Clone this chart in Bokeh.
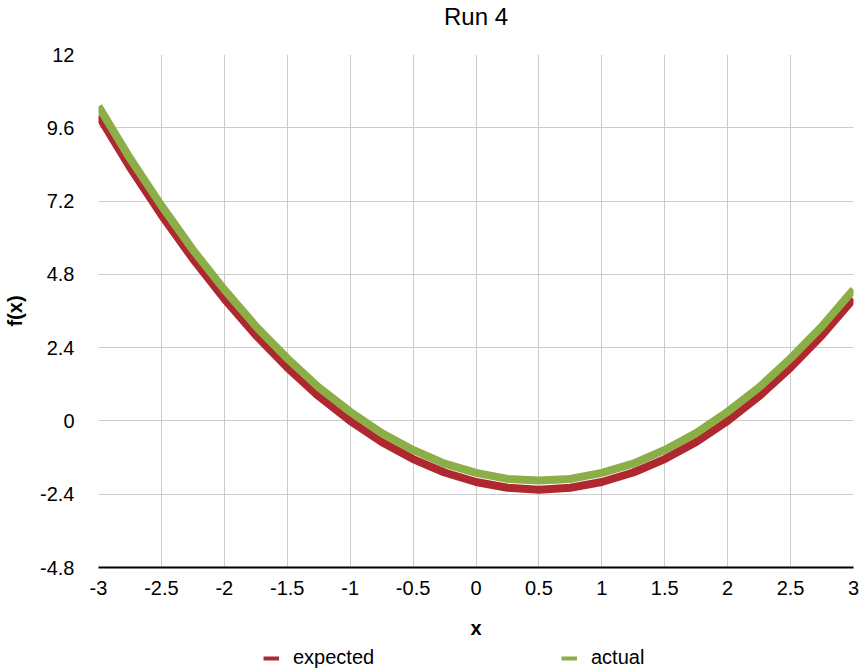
from bokeh.plotting import figure
from bokeh.models import FixedTicker, Legend, LegendItem, Range1d
from bokeh.layouts import column
from bokeh.embed import file_html
from bokeh.resources import INLINE

# ---- data ----
x_vals = [-3.0, -2.75, -2.5, -2.25, -2.0, -1.75, -1.5, -1.25, -1.0, -0.75, -0.5, -0.25,
          0.0, 0.25, 0.5, 0.75, 1.0, 1.25, 1.5, 1.75, 2.0, 2.25, 2.5, 2.75, 3.0]
expected = [10.0, 8.31, 6.75, 5.31, 4.0, 2.81, 1.75, 0.81, 0.0, -0.69, -1.25, -1.69,
            -2.0, -2.19, -2.25, -2.19, -2.0, -1.69, -1.25, -0.69, 0.0, 0.81, 1.75, 2.81, 4.0]
actual = [10.3, 8.6, 7.05, 5.6, 4.3, 3.1, 2.05, 1.1, 0.3, -0.4, -0.95, -1.4,
          -1.7, -1.9, -1.95, -1.9, -1.7, -1.4, -0.95, -0.4, 0.3, 1.1, 2.05, 3.1, 4.3]
x_ticks = [-3, -2.5, -2, -1.5, -1, -0.5, 0, 0.5, 1, 1.5, 2, 2.5, 3]
x_tick_labels = ["-3", "-2.5", "-2", "-1.5", "-1", "-0.5", "0", "0.5", "1", "1.5", "2", "2.5", "3"]
y_ticks = [-4.8, -2.4, 0, 2.4, 4.8, 7.2, 9.6, 12]
y_tick_labels = ["-4.8", "-2.4", "0", "2.4", "4.8", "7.2", "9.6", "12"]
series_names = ["expected", "actual"]

FONT = "Liberation Sans"
RED = "#B0282F"
GREEN = "#8BAE46"

p = figure(width=861, height=643, output_backend="svg", toolbar_location=None,
           x_range=Range1d(-3, 3), y_range=Range1d(-4.8, 12),
           min_border_left=98, min_border_right=8, min_border_top=54, min_border_bottom=76,
           title="Run 4\n")
p.outline_line_color = None
p.background_fill_color = "white"
p.border_fill_color = "white"

p.title.align = "center"
p.title.text_font = FONT
p.title.text_font_size = "24px"
p.title.text_font_style = "normal"
p.title.text_color = "black"
p.title.text_line_height = 0.92
p.title.standoff = 0

for ax in (p.xaxis[0], p.yaxis[0]):
    ax.major_label_text_font = FONT
    ax.major_label_text_font_size = "20px"
    ax.major_label_text_color = "black"
    ax.axis_label_text_font = FONT
    ax.axis_label_text_font_size = "20px"
    ax.axis_label_text_font_style = "bold"
    ax.axis_label_text_color = "black"
    ax.major_tick_line_color = None
    ax.minor_tick_line_color = None

p.xaxis[0].ticker = FixedTicker(ticks=x_ticks)
p.xaxis[0].major_label_overrides = {t: l for t, l in zip(x_ticks, x_tick_labels)}
p.xaxis[0].axis_line_color = "black"
p.xaxis[0].axis_line_width = 2
p.xaxis[0].major_label_standoff = 7
p.xaxis[0].axis_label = "x"
p.xaxis[0].axis_label_standoff = 19

p.yaxis[0].ticker = FixedTicker(ticks=y_ticks)
p.yaxis[0].major_label_overrides = {t: l for t, l in zip(y_ticks, y_tick_labels)}
p.yaxis[0].axis_line_color = None
p.yaxis[0].major_label_standoff = 18
p.yaxis[0].axis_label = "f(x)"
p.yaxis[0].axis_label_standoff = 11

p.xgrid[0].ticker = FixedTicker(ticks=x_ticks)
p.ygrid[0].ticker = FixedTicker(ticks=y_ticks)
p.xgrid.grid_line_color = "#cccccc"
p.ygrid.grid_line_color = "#cccccc"
p.xgrid.grid_line_width = 1
p.ygrid.grid_line_width = 1

p.line(x_vals, expected, line_color=RED, line_width=8)
p.line(x_vals, actual, line_color=GREEN, line_width=8)

# ---- legend strip below the chart ----
lg = figure(width=861, height=27, output_backend="svg", toolbar_location=None,
            x_range=Range1d(-3, 3), y_range=Range1d(-4.8, 12),
            x_axis_location=None, y_axis_location=None,
            min_border_left=0, min_border_right=0, min_border_top=0, min_border_bottom=0)
lg.outline_line_color = None
lg.xgrid.visible = False
lg.ygrid.visible = False
lg.background_fill_color = "white"
lg.border_fill_color = "white"

# single-point lines draw nothing themselves; they only supply the swatch style
r_exp = lg.line(x_vals[:1], expected[:1], line_color=RED, line_width=4)
r_act = lg.line(x_vals[:1], actual[:1], line_color=GREEN, line_width=4)

legend = Legend(items=[LegendItem(label=series_names[0], renderers=[r_exp]),
                       LegendItem(label=series_names[1], renderers=[r_act])],
                orientation="horizontal", location=(165, 1),
                glyph_width=16, glyph_height=22, label_standoff=14, label_width=93,
                spacing=175, padding=0, margin=0, border_line_color=None,
                background_fill_alpha=0,
                label_text_font=FONT, label_text_font_size="20px", label_text_color="black")
lg.add_layout(legend, "center")

layout = column(p, lg, spacing=0)
open("out.html", "w").write(file_html(layout, INLINE))
